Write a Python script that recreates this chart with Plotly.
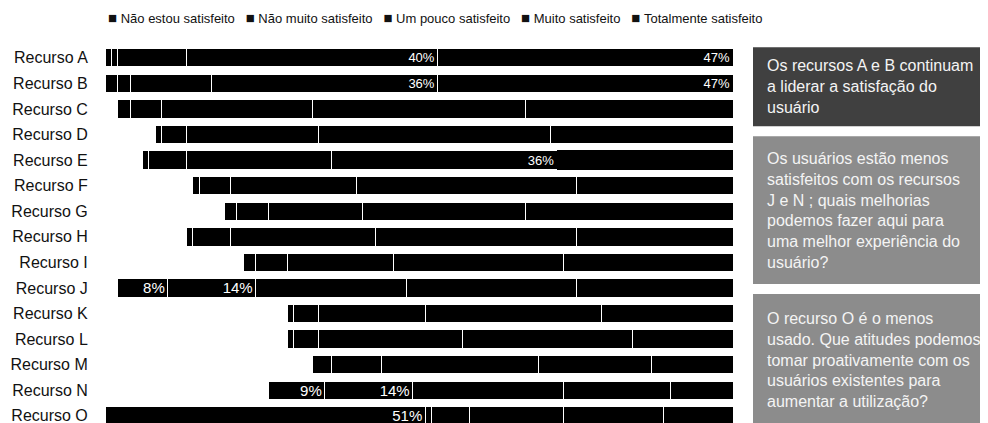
import plotly.graph_objects as go

# recursos, de cima para baixo
recursos = ["Recurso A", "Recurso B", "Recurso C", "Recurso D", "Recurso E",
            "Recurso F", "Recurso G", "Recurso H", "Recurso I", "Recurso J",
            "Recurso K", "Recurso L", "Recurso M", "Recurso N", "Recurso O"]

categorias = ["Não estou satisfeito", "Não muito satisfeito", "Um pouco satisfeito",
              "Muito satisfeito", "Totalmente satisfeito"]

# % de respostas por recurso
nao_usa    = [0, 0, 2, 8, 6, 14, 19, 13, 22, 2, 29, 29, 33, 26, 51]
nao_estou  = [1, 2, 2, 1, 1, 1, 2, 1, 2, 8, 1, 1, 3, 9, 1]
nao_muito  = [1, 2, 5, 4, 6, 5, 5, 6, 5, 14, 4, 4, 8, 14, 6]
um_pouco   = [11, 13, 24, 21, 23, 20, 15, 23, 17, 24, 17, 23, 25, 24, 15]
muito      = [40, 36, 34, 37, 36, 35, 26, 32, 27, 27, 28, 27, 18, 17, 16]
totalmente = [47, 47, 33, 29, 28, 25, 33, 25, 27, 25, 21, 16, 13, 10, 11]

# segmentos com rótulo visível
rotulos = {("Recurso A", "Muito satisfeito"), ("Recurso A", "Totalmente satisfeito"),
           ("Recurso B", "Muito satisfeito"), ("Recurso B", "Totalmente satisfeito"),
           ("Recurso E", "Muito satisfeito"),
           ("Recurso J", "Não estou satisfeito"), ("Recurso J", "Não muito satisfeito"),
           ("Recurso N", "Não estou satisfeito"), ("Recurso N", "Não muito satisfeito"),
           ("Recurso O", "Não usa")}

caixas = [
    ("Os recursos A e B continuam<br>a liderar a satisfação do<br>usuário", 47, 126, "#404040"),
    ("Os usuários estão menos<br>satisfeitos com os recursos<br>J e N ; quais melhorias<br>"
     "podemos fazer aqui para<br>uma melhor experiência do<br>usuário?", 136, 284, "#8c8c8c"),
    ("O recurso O é o menos<br>usado. Que atitudes podemos<br>tomar proativamente com os<br>"
     "usuários existentes para<br>aumentar a utilização?", 294, 426, "#8c8c8c"),
]

FONT = "Liberation Sans, Arial, Helvetica, sans-serif"
OFF = 8                      # margem do <body> da página
W, H = 988 - OFF, 423 - OFF
L, R, T, B = 105, 733, 44.7, 423   # área do gráfico em pixels da imagem


def px_x(x):
    return (x - L) / (R - L)


def px_y(y):
    return (B - y) / (B - T)


def textos(nome, vals):
    out, sizes = [], []
    for r, v in zip(recursos, vals):
        out.append(f"{v}%" if (r, nome) in rotulos else "")
        sizes.append(13 if r in ("Recurso A", "Recurso B", "Recurso E") else 15)
    return out, sizes


fig = go.Figure()

# parte "não usa": só aparece no recurso O
txt, sz = textos("Não usa", nao_usa)
fig.add_trace(go.Bar(
    y=recursos, x=nao_usa, orientation="h", name="Não usa", showlegend=False,
    marker=dict(color=["black" if r == "Recurso O" else "rgba(0,0,0,0)" for r in recursos],
                line=dict(color="white", width=[1 if r == "Recurso O" else 0 for r in recursos])),
    text=txt, textposition="inside", insidetextanchor="end", textangle=0, constraintext="none",
    textfont=dict(color="white", size=sz, family=FONT),
    hoverinfo="skip",
))

for nome, vals in zip(categorias, [nao_estou, nao_muito, um_pouco, muito, totalmente]):
    txt, sz = textos(nome, vals)
    linhas = ["white"] * len(recursos)
    if nome == "Totalmente satisfeito":
        linhas[recursos.index("Recurso E")] = "black"
    fig.add_trace(go.Bar(
        y=recursos, x=vals, orientation="h", name=nome, showlegend=False,
        marker=dict(color="black", line=dict(color=linhas, width=1)),
        text=txt, textposition="inside", insidetextanchor="end", textangle=0, constraintext="none",
        textfont=dict(color="white", size=sz, family=FONT),
        hovertemplate="%{y}<br>" + nome + ": %{x}%<extra></extra>",
    ))

# legenda compacta
quad = "<span style='font-size:15px'>■</span>"
legenda = "\u00a0\u00a0\u00a0".join(quad + "\u00a0" + c for c in categorias)
annotations = [dict(text=legenda, xref="paper", yref="paper", x=px_x(106), y=px_y(17),
                    xanchor="left", yanchor="middle", showarrow=False,
                    font=dict(size=13, color="#111", family=FONT))]
shapes = []
for texto, y0, y1, cor in caixas:
    shapes.append(dict(type="rect", xref="paper", yref="paper",
                       x0=px_x(753), x1=px_x(995), y0=px_y(y1), y1=px_y(y0),
                       fillcolor=cor, line=dict(width=0), layer="below"))
    annotations.append(dict(text=texto, xref="paper", yref="paper",
                            x=px_x(765), y=px_y((y0 + y1) / 2), xanchor="left", yanchor="middle",
                            align="left", showarrow=False,
                            font=dict(size=16, color="#f4f4f4", family=FONT)))

fig.update_layout(
    width=W, height=H, barmode="stack", bargap=0.28,
    margin=dict(l=L - OFF, r=W - (R - OFF), t=T - OFF, b=H - (B - OFF), pad=0),
    paper_bgcolor="white", plot_bgcolor="white",
    font=dict(family=FONT, color="#111"),
    xaxis=dict(range=[0, 100], showticklabels=False, showgrid=False, zeroline=False, fixedrange=True),
    yaxis=dict(range=[14.28, -0.5], showgrid=False, zeroline=False, showline=False,
               ticks="outside", ticklen=13, tickcolor="rgba(0,0,0,0)",
               tickfont=dict(size=16, color="#111", family=FONT)),
    shapes=shapes, annotations=annotations,
)

fig.write_html("out.html")
